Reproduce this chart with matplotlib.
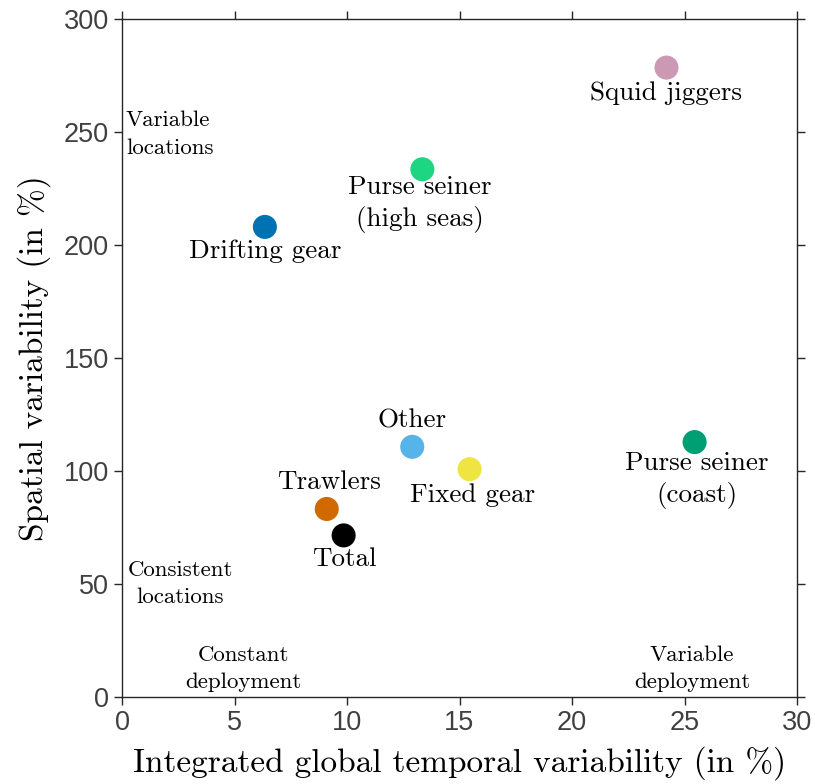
import matplotlib
matplotlib.use("Agg")
import matplotlib.pyplot as plt

# fleet categories and their variability values (in %)
categories = ["Squid jiggers", "Purse seiner\n(high seas)", "Drifting gear", "Other",
              "Fixed gear", "Purse seiner\n(coast)", "Trawlers", "Total"]
temporal = [24.2, 13.35, 6.35, 12.9, 15.45, 25.45, 9.1, 9.85]
spatial = [278.5, 233.5, 208.0, 110.7, 100.8, 112.8, 83.2, 71.5]
colors = ["#CC99B4", "#1CD681", "#0072B2", "#56B4E9",
          "#F0E442", "#009E73", "#D06A00", "#000000"]

# label offsets in pixels (dx, dy) from each point
offsets = [(0, -26), (-3, -35), (0, -24), (0, 26), (3, -26), (2, -38), (2, 27), (1, -24)]

corner_text = ["Variable\nlocations", "Consistent\nlocations",
               "Constant\ndeployment", "Variable\ndeployment"]
corner_pos = [(0.18, 249), (2.58, 50), (5.38, 12.4), (25.33, 12.4)]
corner_ha = ["left", "center", "center", "center"]

serif = "cmr10"
axis_col = "#262626"

fig = plt.figure(figsize=(8.15, 7.84), dpi=100)
ax = fig.add_axes([122 / 815, 87 / 784, 675 / 815, 678 / 784])

ax.scatter(temporal, spatial, s=300, c=colors, edgecolors="none", zorder=3)

for name, x, y, (dx, dy) in zip(categories, temporal, spatial, offsets):
    ax.annotate(name, (x, y), xytext=(dx * 0.72, dy * 0.72), textcoords="offset points",
                ha="center", va="center", family=serif, fontsize=19.5, linespacing=1.33)

for t, (x, y), ha in zip(corner_text, corner_pos, corner_ha):
    ax.text(x, y, t, ha=ha, va="center", family=serif, fontsize=16.5,
            multialignment="center" if ha == "center" else "left", linespacing=1.5)

ax.set_xlim(0, 30)
ax.set_ylim(0, 300)
ax.set_xticks(range(0, 31, 5))
ax.set_yticks(range(0, 301, 50))

for s in ax.spines.values():
    s.set_color(axis_col)
    s.set_linewidth(1.0)
ax.tick_params(direction="out", length=6, width=1.0, color=axis_col,
               labelsize=19.5, labelcolor="#404040", top=True, right=True,
               labeltop=False, labelright=False)
for lab in ax.get_xticklabels() + ax.get_yticklabels():
    lab.set_family("Liberation Sans")

ax.set_xlabel("Integrated global temporal variability (in %)", family=serif,
              fontsize=24, labelpad=7)
ax.set_ylabel("Spatial variability (in %)", family=serif, fontsize=24, labelpad=9)

fig.savefig("out.png", dpi=100)
